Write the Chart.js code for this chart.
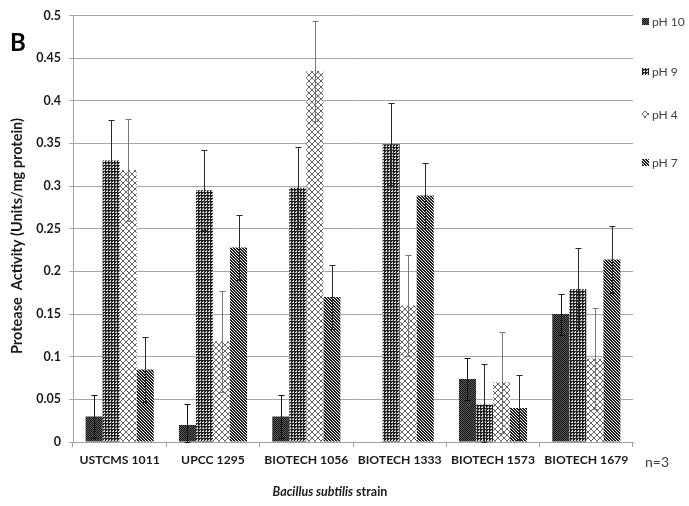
<!DOCTYPE html>
<html>
<head>
<meta charset="utf-8">
<script src="https://cdn.jsdelivr.net/npm/chart.js@4/dist/chart.umd.min.js"></script>
<style>
  html, body { margin: 0; padding: 0; background: #fff; }
  #wrap { width: 689px; height: 506px; position: relative; }
</style>
</head>
<body>
<div id="wrap"><canvas id="c" width="689" height="506"></canvas></div>
<script>
// ---- data ----
const categories = ['USTCMS 1011', 'UPCC 1295', 'BIOTECH 1056', 'BIOTECH 1333', 'BIOTECH 1573', 'BIOTECH 1679'];
const seriesNames = ['pH 10', 'pH 9', 'pH 4', 'pH 7'];
const ph10 = [0.030, 0.020, 0.030, 0, 0.074, 0.150];
const ph10Err = [0.025, 0.024, 0.025, 0, 0.025, 0.024];
const ph9 = [0.330, 0.295, 0.298, 0.349, 0.044, 0.179];
const ph9Err = [0.048, 0.047, 0.048, 0.048, 0.048, 0.048];
const ph4 = [0.319, 0.118, 0.435, 0.160, 0.070, 0.098];
const ph4Err = [0.060, 0.059, 0.059, 0.059, 0.059, 0.059];
const ph7 = [0.085, 0.228, 0.170, 0.289, 0.040, 0.214];
const ph7Err = [0.038, 0.038, 0.038, 0.038, 0.038, 0.039];
const yTickLabels = ['0', '0.05', '0.1', '0.15', '0.2', '0.25', '0.3', '0.35', '0.4', '0.45', '0.5'];

// ---- patterns ----
function makePattern(size, painter) {
  const cv = document.createElement('canvas');
  cv.width = size; cv.height = size;
  const g = cv.getContext('2d');
  g.fillStyle = '#ffffff';
  g.fillRect(0, 0, size, size);
  painter(g, size);
  return document.getElementById('c').getContext('2d').createPattern(cv, 'repeat');
}
const pat10 = makePattern(2, (g) => {
  g.fillStyle = '#141414'; g.fillRect(0, 0, 2, 2);
  g.fillStyle = '#5a5a5a'; g.fillRect(1, 0, 1, 1); g.fillRect(0, 1, 1, 1);
});
const pat9 = makePattern(3, (g) => {
  g.fillStyle = '#222222'; g.fillRect(0, 0, 3, 3);
  g.fillStyle = '#d8d8d8'; g.fillRect(2, 1, 1, 1); g.fillRect(1, 2, 1, 1); g.fillRect(2, 2, 1, 1);
});
const pat4 = makePattern(6, (g, s) => {
  g.fillStyle = '#666666';
  for (let i = 0; i < s; i++) { g.fillRect(i, i, 1, 1); g.fillRect(s - 1 - i, i, 1, 1); }
});
const pat7 = makePattern(3, (g, s) => {
  g.fillStyle = '#1c1c1c';
  for (let y = 0; y < s; y++) for (let x = 0; x < s; x++) {
    const d = ((x - y) % 3 + 3) % 3;
    if (d !== 2) g.fillRect(x, y, 1, 1);
  }
});

const errColors = ['#111111', '#2a2a2a', '#777777', '#2a2a2a'];
const errs = [ph10Err, ph9Err, ph4Err, ph7Err];

const errorBarPlugin = {
  id: 'errorBars',
  afterDatasetsDraw(chart) {
    const ctx = chart.ctx;
    const ys = chart.scales.y;
    chart.data.datasets.forEach((ds, i) => {
      const meta = chart.getDatasetMeta(i);
      meta.data.forEach((bar, j) => {
        const v = ds.data[j], e = errs[i][j];
        if (!e) return;
        const x = Math.round(bar.x) + 0.5;
        const yt = Math.round(ys.getPixelForValue(v + e)) + 0.5;
        const yb = Math.round(ys.getPixelForValue(Math.max(0, v - e))) + 0.5;
        ctx.save();
        ctx.strokeStyle = errColors[i];
        ctx.lineWidth = 1;
        ctx.beginPath();
        ctx.moveTo(x, yt); ctx.lineTo(x, yb);
        ctx.moveTo(x - 3, yt); ctx.lineTo(x + 3, yt);
        ctx.moveTo(x - 3, yb); ctx.lineTo(x + 3, yb);
        ctx.stroke();
        ctx.restore();
      });
    });
  }
};

const FONT = 'Lato, "Open Sans", sans-serif';
const decorPlugin = {
  id: 'decor',
  afterDraw(chart) {
    const ctx = chart.ctx;
    const ca = chart.chartArea;
    ctx.save();
    // legend
    const legendY = [22, 72, 115, 163];
    chart.data.datasets.forEach((ds, i) => {
      const y = legendY[i];
      ctx.fillStyle = ds.backgroundColor;
      ctx.fillRect(ca.right + 9, y - 4, 7, 7);
      ctx.fillStyle = '#404040';
      ctx.font = '12px ' + FONT;
      ctx.textAlign = 'left';
      ctx.textBaseline = 'middle';
      ctx.fillText(ds.label, ca.right + 19, y);
    });
    // panel letter
    ctx.fillStyle = '#000';
    ctx.font = 'bold 24px ' + FONT;
    ctx.textAlign = 'center';
    ctx.textBaseline = 'middle';
    ctx.fillText('B', 18, 43);
    // y title
    ctx.save();
    ctx.translate(17, 236);
    ctx.rotate(-Math.PI / 2);
    ctx.font = 'bold 14.5px ' + FONT;
    ctx.fillStyle = '#1a1a1a';
    ctx.fillText('Protease  Activity (Units/mg protein)', 0, 0);
    ctx.restore();
    // n=3
    ctx.font = '14px ' + FONT;
    ctx.fillStyle = '#404040';
    ctx.textAlign = 'left';
    ctx.fillText('n=3', 645, 462);
    // x title with italic part
    const p1 = 'Bacillus subtilis';
    const p2 = ' strain';
    ctx.font = 'italic bold 12.5px ' + FONT;
    const w1 = ctx.measureText(p1).width;
    ctx.font = 'bold 12.5px ' + FONT;
    const w2 = ctx.measureText(p2).width;
    const cx = 330;
    const x0 = cx - (w1 + w2) / 2;
    ctx.fillStyle = '#1a1a1a';
    ctx.font = 'italic bold 12.5px ' + FONT;
    ctx.fillText(p1, x0, 492);
    ctx.font = 'bold 12.5px ' + FONT;
    ctx.fillText(p2, x0 + w1, 492);
    ctx.restore();
  }
};

const seriesData = [ph10, ph9, ph4, ph7];
const patterns = [pat10, pat9, pat4, pat7];

new Chart(document.getElementById('c'), {
  type: 'bar',
  data: {
    labels: categories,
    datasets: seriesNames.map((n, i) => ({
      label: n,
      data: seriesData[i],
      backgroundColor: patterns[i],
      borderWidth: 0,
      categoryPercentage: 0.73,
      barPercentage: 1.0
    }))
  },
  options: {
    responsive: false,
    animation: false,
    devicePixelRatio: 1,
    layout: { padding: { left: 0, right: 56, top: 13, bottom: 0 } },
    plugins: { legend: { display: false }, tooltip: { enabled: false } },
    scales: {
      x: {
        afterFit(s) { s.height = 64; },
        grid: { display: true, drawOnChartArea: false, drawTicks: true, offset: true, tickLength: 5, color: '#a0a0a0' },
        border: { display: true, color: '#a0a0a0' },
        ticks: { color: '#1a1a1a', padding: 6, font: { family: FONT, weight: 'bold', size: 12.2 }, maxRotation: 0, autoSkip: false }
      },
      y: {
        min: 0, max: 0.5,
        afterFit(s) { s.width = 73; },
        afterBuildTicks(s) { s.ticks = yTickLabels.map((t) => ({ value: parseFloat(t) })); },
        grid: { color: '#a6a6a6', tickLength: 4 },
        border: { display: true, color: '#a0a0a0' },
        ticks: {
          color: '#1a1a1a', padding: 8,
          font: { family: FONT, weight: 'bold', size: 12.5 },
          callback: (v, idx) => yTickLabels[idx]
        }
      }
    }
  },
  plugins: [errorBarPlugin, decorPlugin]
});
</script>
</body>
</html>
